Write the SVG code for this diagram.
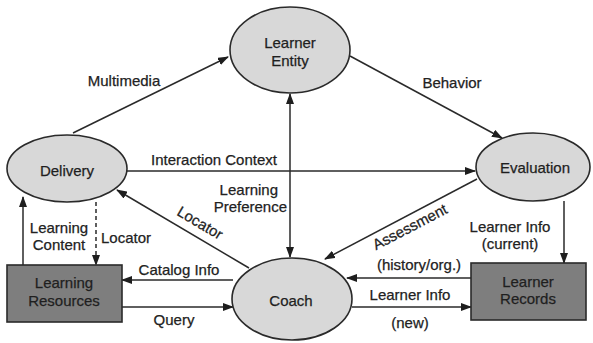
<svg xmlns="http://www.w3.org/2000/svg" width="593" height="343" viewBox="0 0 593 343">
  <style>
    .bg { fill: #ffffff; }
    .ell { fill: #d8d8d8; stroke: #2a2a2a; stroke-width: 1.6; }
    .box { fill: #7e7e7e; stroke: #2a2a2a; stroke-width: 1.6; }
    .edge { fill: none; stroke: #2a2a2a; stroke-width: 1.5; }
    .dash { stroke-dasharray: 4 3; }
    text { font-family: "Liberation Sans", Arial, sans-serif; font-size: 15px; fill: #222222; stroke: #222222; stroke-width: 0.25; }
    .c { text-anchor: middle; }
    .r { text-anchor: end; }
    .node-text { fill: #1e1e1e; }
  </style>
  <defs>
    <marker id="arrow" markerUnits="userSpaceOnUse" markerWidth="11" markerHeight="8" refX="10" refY="4" orient="auto-start-reverse">
      <path d="M0,0 L11,4 L0,8 z" fill="#1e1e1e"/>
    </marker>
  </defs>

  <rect class="bg" x="0" y="0" width="593" height="343"/>

  <!-- connectors -->
  <g id="connectors">
    <!-- Delivery to Learner Entity -->
    <line class="edge" x1="73" y1="133" x2="228" y2="57" marker-end="url(#arrow)"/>
    <text x="124" y="86" class="c">Multimedia</text>

    <!-- Learner Entity to Evaluation -->
    <line class="edge" x1="350" y1="56" x2="502" y2="138" marker-end="url(#arrow)"/>
    <text x="452" y="88" class="c">Behavior</text>

    <!-- Delivery to Evaluation -->
    <line class="edge" x1="127" y1="171" x2="475" y2="171" marker-end="url(#arrow)"/>
    <text x="214" y="165" class="c">Interaction Context</text>

    <!-- Coach <-> Learner Entity -->
    <line class="edge" x1="290" y1="94" x2="290" y2="257" marker-start="url(#arrow)" marker-end="url(#arrow)"/>
    <text x="278" y="195" class="r">Learning</text>
    <text x="287" y="212" class="r">Preference</text>

    <!-- Coach to Delivery -->
    <line class="edge" x1="249" y1="268" x2="117" y2="190" marker-end="url(#arrow)"/>
    <text x="0" y="0" class="c" transform="translate(200,223) rotate(30.6) translate(0,5)">Locator</text>

    <!-- Evaluation to Coach -->
    <line class="edge" x1="477" y1="179" x2="325" y2="259" marker-end="url(#arrow)"/>
    <text x="0" y="0" class="c" transform="translate(410,227) rotate(-27.5) translate(0,5)">Assessment</text>

    <!-- Evaluation to Learner Records -->
    <line class="edge" x1="564" y1="201" x2="564" y2="263" marker-end="url(#arrow)"/>
    <text x="510" y="232" class="c">Learner Info</text>
    <text x="510" y="249" class="c">(current)</text>

    <!-- Learner Records to Coach -->
    <line class="edge" x1="471" y1="278" x2="347" y2="278" marker-end="url(#arrow)"/>
    <text x="419" y="270" class="c">(history/org.)</text>

    <!-- Coach to Learner Records -->
    <line class="edge" x1="352" y1="307" x2="471" y2="307" marker-end="url(#arrow)"/>
    <text x="410" y="300" class="c">Learner Info</text>
    <text x="410" y="328" class="c">(new)</text>

    <!-- Coach to Learning Resources -->
    <line class="edge" x1="233" y1="280" x2="122" y2="280" marker-end="url(#arrow)"/>
    <text x="179" y="275" class="c">Catalog Info</text>

    <!-- Learning Resources to Coach -->
    <line class="edge" x1="122" y1="307" x2="233" y2="307" marker-end="url(#arrow)"/>
    <text x="174" y="325" class="c">Query</text>

    <!-- Learning Resources to Delivery -->
    <line class="edge" x1="23" y1="265" x2="23" y2="197" marker-end="url(#arrow)"/>
    <text x="59" y="233" class="c">Learning</text>
    <text x="59" y="250" class="c">Content</text>

    <!-- Delivery to Learning Resources -->
    <line class="edge dash" x1="96" y1="202" x2="96" y2="265" marker-end="url(#arrow)"/>
    <text x="101" y="243">Locator</text>
  </g>

  <!-- nodes -->
  <g id="learner-entity">
    <ellipse class="ell" cx="290" cy="50" rx="60" ry="43"/>
    <text x="290" y="48" class="c node-text">Learner</text>
    <text x="290" y="66" class="c node-text">Entity</text>
  </g>

  <g id="delivery">
    <ellipse class="ell" cx="67" cy="168.5" rx="60" ry="33.5"/>
    <text x="67" y="176" class="c node-text">Delivery</text>
  </g>

  <g id="evaluation">
    <ellipse class="ell" cx="533" cy="167" rx="57" ry="34"/>
    <text x="535" y="173" class="c node-text">Evaluation</text>
  </g>

  <g id="coach">
    <ellipse class="ell" cx="292" cy="299" rx="60" ry="41"/>
    <text x="291" y="306" class="c node-text">Coach</text>
  </g>

  <g id="learning-resources">
    <rect class="box" x="7" y="265" width="115" height="57"/>
    <text x="64" y="288" class="c node-text">Learning</text>
    <text x="64" y="306" class="c node-text">Resources</text>
  </g>

  <g id="learner-records">
    <rect class="box" x="471" y="263" width="115" height="57"/>
    <text x="528" y="287" class="c node-text">Learner</text>
    <text x="528" y="304" class="c node-text">Records</text>
  </g>
</svg>
